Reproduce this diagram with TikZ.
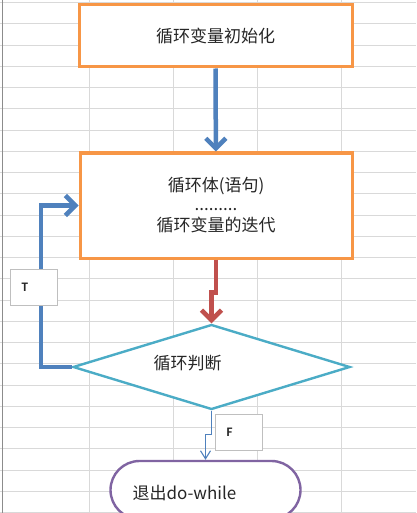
\documentclass[tikz,border=0pt]{standalone}
\usepackage{fontspec}
\newfontfamily\cjk{Noto Sans CJK SC}
\newfontfamily\calib{Carlito}
\usepackage{tikz}
\usetikzlibrary{arrows.meta,shapes.geometric,shapes.misc}

\definecolor{boxorange}{HTML}{F79646}
\definecolor{loopblue}{HTML}{4F81BD}
\definecolor{steprred}{HTML}{C0504D}
\definecolor{testteal}{HTML}{4BACC6}
\definecolor{exitpurple}{HTML}{8064A2}
\definecolor{cellgrid}{HTML}{D9D9D9}

\begin{document}
\begin{tikzpicture}[
  x=1pt, y=-1pt,
  font=\cjk\fontsize{17}{22}\selectfont,
  text=black!85,
  % Node styles
  stepbox/.style={rectangle, draw=boxorange, line width=3pt, fill=white, align=center},
  testbox/.style={diamond, draw=testteal, line width=2.4pt, fill=white, inner sep=0pt},
  endbox/.style={rounded rectangle, draw=exitpurple, line width=2.4pt, fill=white, inner sep=0pt},
  tagbox/.style={rectangle, draw=black!25, line width=0.8pt, fill=white, minimum width=47pt, minimum height=36pt,
    text width=24pt, align=left, font=\calib\bfseries\fontsize{13}{15}\selectfont},
  gridline/.style={draw=cellgrid, line width=0.9pt},
  arr/.style={-{Straight Barb[length=10pt,width=20pt]}, line width=4.5pt},
  thinarr/.style={-{Straight Barb[length=8pt,width=10pt]}, line width=1.1pt, color=loopblue}
]

  \useasboundingbox (0,0) rectangle (416,513);
  \clip (0,0) rectangle (416,513);

  % Sheet grid
  \fill[white] (0,0) rectangle (416,513);
  \foreach \gx in {89,173,257,341}
    \draw[gridline] (\gx,0) -- (\gx,513);
  \foreach \k in {0,...,24}
    \draw[gridline] (0,{2.5+21.25*\k}) -- (416,{2.5+21.25*\k});
  \draw[black!45, line width=1pt] (2.5,0) -- (2.5,513);

  % Flow nodes
  \node[stepbox, minimum width=273pt, minimum height=62pt] (init) at (215.5,36) {循环变量初始化};
  \node[stepbox, minimum width=272pt, minimum height=105pt] (body) at (216,205.5)
    {循环体(语句)\\[-3pt].........\\[-1pt]循环变量的迭代};
  \node[testbox, minimum width=277pt, minimum height=85pt,
        label={[xshift=-24pt, yshift=4pt]center:循环判断}] (judge) at (211.5,367) {};
  \node[endbox, minimum width=190pt, minimum height=58pt,
        label={[xshift=-21pt, yshift=-3pt]center:退出do-while}] (exit) at (205.5,490) {};

  % Edges
  \draw[arr, loopblue] (init) -- (body);
  \draw[arr, steprred] (body.south) -- ++(0,33) -| (judge.north);
  \draw[arr, loopblue] (judge.west) -- ++(-31,0) |- (body.west);
  \draw[thinarr] (judge.south) -- ++(0,24) -| (exit.north);

  % Branch tags
  \node[tagbox] (ttag) at (33.5,287) {T};
  \node[tagbox] (ftag) at (238.5,432.5) {F};

\end{tikzpicture}
\end{document}
